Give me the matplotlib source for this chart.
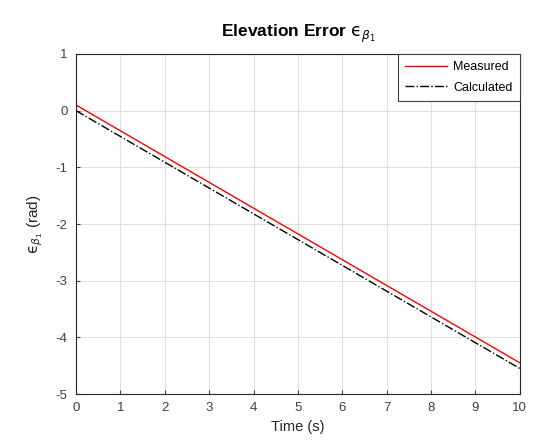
import matplotlib
matplotlib.use('Agg')
import matplotlib.pyplot as plt
import numpy as np

# data
time = [0, 10]
measured = [0.1, -4.45]
calculated = [0.0, -4.55]
xticks = list(range(0, 11))
yticks = [-5, -4, -3, -2, -1, 0, 1]

plt.rcParams['font.family'] = ['Liberation Sans', 'DejaVu Sans']
plt.rcParams['mathtext.fontset'] = 'dejavusans'
plt.rcParams['axes.unicode_minus'] = False

fig = plt.figure(figsize=(5.4, 4.48), dpi=100)
ax = fig.add_axes([0.1407, 0.1205, 0.822, 0.759])

ax.plot(time, measured, color='red', lw=1.0, label='Measured')
ax.plot(time, calculated, color='black', lw=1.0, ls='-.', label='Calculated')

ax.set_xlim(0, 10)
ax.set_ylim(-5, 1)
ax.set_xticks(xticks)
ax.set_yticks(yticks)
ax.grid(True, color='#e0e0e0', lw=0.8)
ax.tick_params(direction='in', labelsize=9.5, colors='#404040', length=3)
ax.tick_params(axis='x', pad=6)
ax.tick_params(axis='y', pad=6)
for s in ax.spines.values():
    s.set_color('#262626')
    s.set_linewidth(0.8)

eps = '$\\mathrm{\u03f5}_{\\beta_{1}}$'
ax.set_xlabel('Time (s)', fontsize=10.5, color='#262626')
ax.set_ylabel(eps + ' (rad)', fontsize=11, color='#262626', labelpad=8)
ax.set_title('Elevation Error ' + eps, fontsize=12.5, fontweight='bold', pad=12)

leg = ax.legend(loc='upper right', fontsize=9, fancybox=False, edgecolor='#404040',
                framealpha=1, handlelength=3.3, handletextpad=0.5, labelspacing=0.65,
                borderpad=0.6, borderaxespad=0)
leg.get_frame().set_linewidth(0.8)

fig.savefig('out.png', dpi=100)
